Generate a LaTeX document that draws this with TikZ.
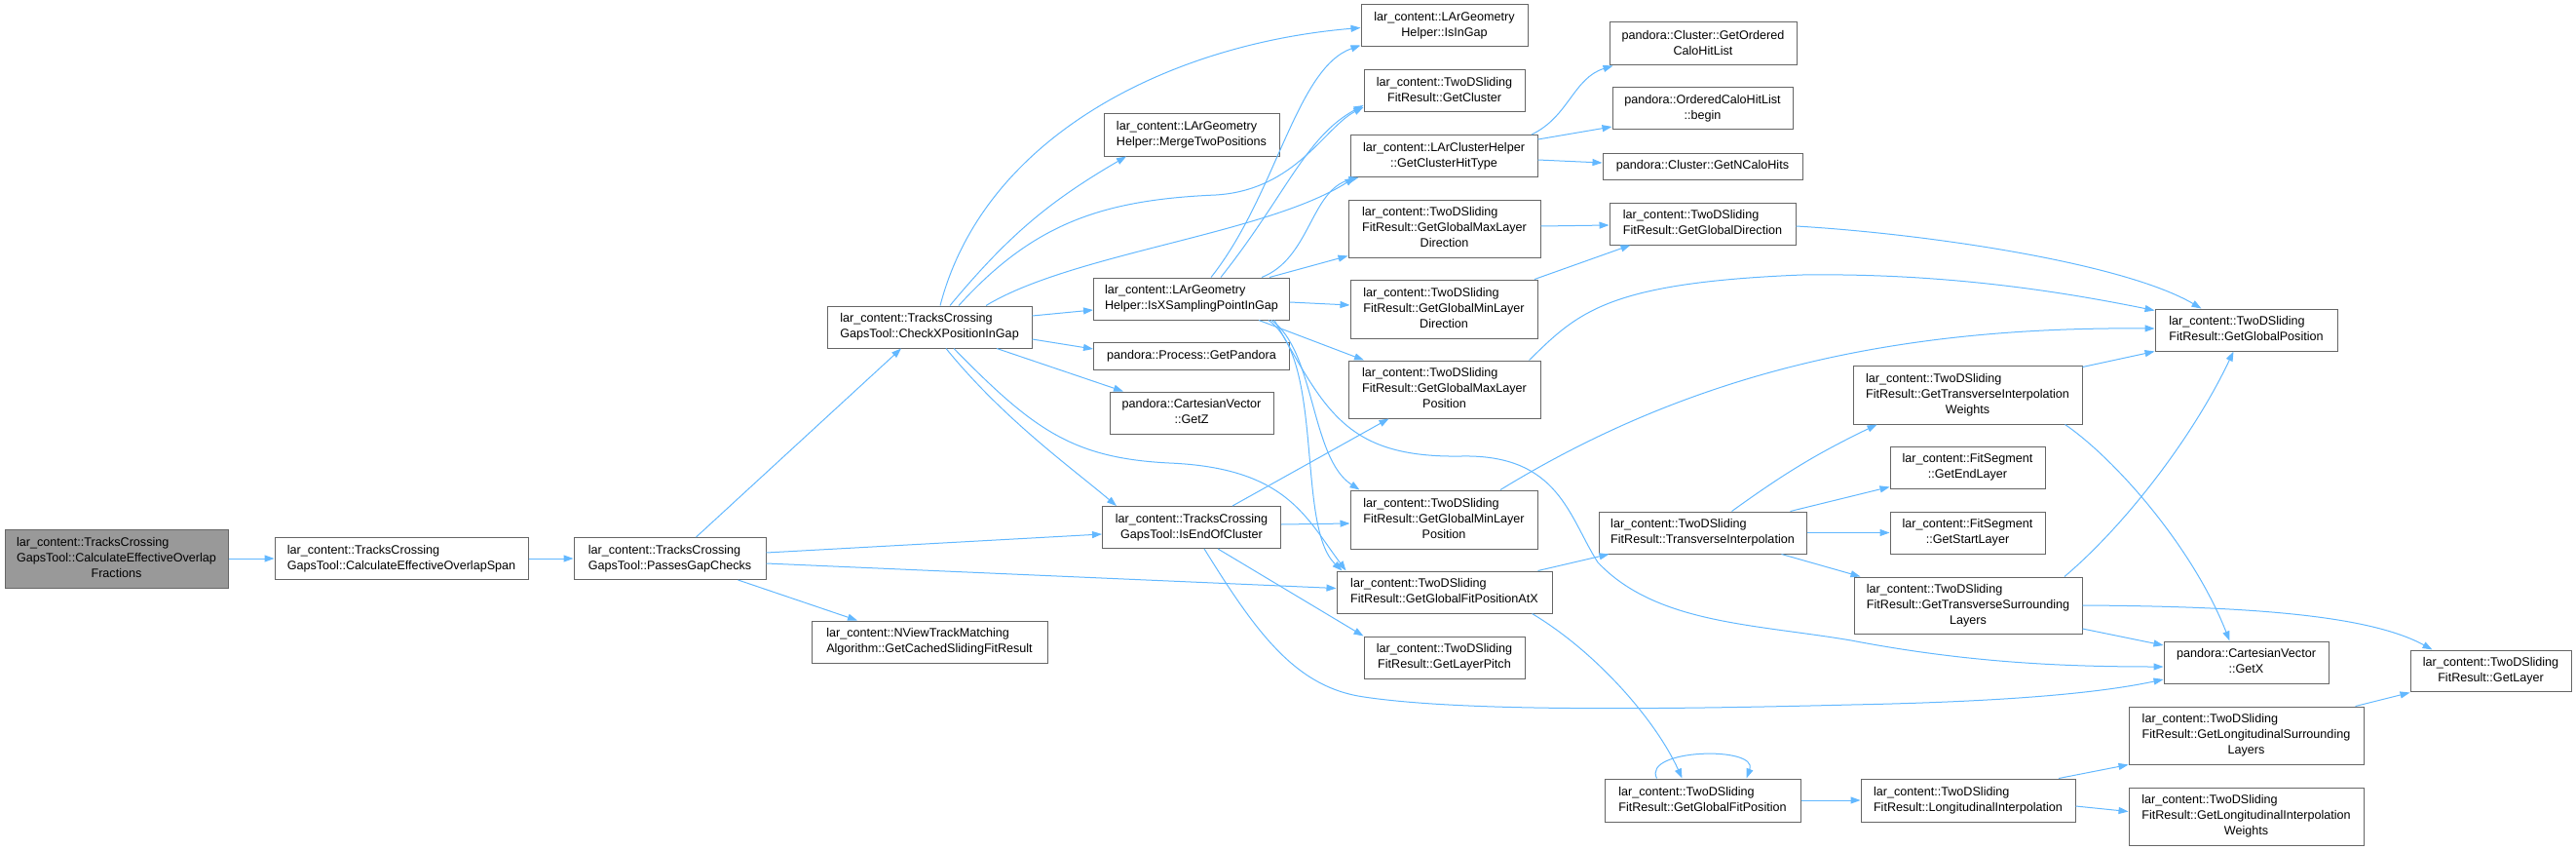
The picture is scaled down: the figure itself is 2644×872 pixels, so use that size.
\documentclass[tikz,border=0pt]{standalone}
\usepackage{fontspec}
\setmainfont{Liberation Sans}
\usepackage{tikz}
\usetikzlibrary{arrows.meta,positioning,calc}
\definecolor{cgblue}{HTML}{63B8FF}
\definecolor{cgline}{HTML}{666666}
\definecolor{cgfill}{HTML}{999999}
\tikzset{
  cgnode/.style={draw=cgline, fill=white, line width=1pt, inner sep=0pt,
    font=\fontsize{12.6pt}{16pt}\selectfont, text=black},
  cgroot/.style={cgnode, fill=cgfill},
  cgsize/.style 2 args={minimum width=#1pt, minimum height=#2pt},
  cgedge/.style={draw=cgblue, line width=1pt, -{Triangle[length=10pt, width=7pt]}},
}
% first lines flush left, last line centred
\newcommand{\cgLbl}[2]{\begin{tabular}{@{}c@{}}\multicolumn{1}{@{}l@{}}{#1}\\#2\end{tabular}}
\newcommand{\cgLblThree}[3]{\begin{tabular}{@{}c@{}}\multicolumn{1}{@{}l@{}}{#1}\\\multicolumn{1}{@{}l@{}}{#2}\\#3\end{tabular}}

\begin{document}
\begin{tikzpicture}[x=1pt, y=-1pt]
  \useasboundingbox (0,0) rectangle (2644,872);

  % callers
  \node[cgroot, cgsize={229}{60}] (root) at (119.5,573) {\cgLblThree{lar\_content::TracksCrossing}{GapsTool::CalculateEffectiveOverlap}{Fractions}};
  \node[cgnode, cgsize={260}{43}] (span) at (412,573) {\cgLbl{lar\_content::TracksCrossing}{GapsTool::CalculateEffectiveOverlapSpan}};
  \node[cgnode, cgsize={197}{43}] (passes) at (687.5,573) {\cgLbl{lar\_content::TracksCrossing}{GapsTool::PassesGapChecks}};
  \node[cgnode, cgsize={210}{43}] (checkx) at (954,335.5) {\cgLbl{lar\_content::TracksCrossing}{GapsTool::CheckXPositionInGap}};
  \node[cgnode, cgsize={242}{43}] (nview) at (954,658.5) {\cgLbl{lar\_content::NViewTrackMatching}{Algorithm::GetCachedSlidingFitResult}};

  % fifth column
  \node[cgnode, cgsize={180}{43}] (merge) at (1223,138.5) {\cgLbl{lar\_content::LArGeometry}{Helper::MergeTwoPositions}};
  \node[cgnode, cgsize={201}{43}] (isxsamp) at (1223,306.5) {\cgLbl{lar\_content::LArGeometry}{Helper::IsXSamplingPointInGap}};
  \node[cgnode, cgsize={201}{28}] (pandora) at (1223,365) {pandora::Process::GetPandora};
  \node[cgnode, cgsize={168}{43}] (getz) at (1223,423.5) {\cgLbl{pandora::CartesianVector}{::GetZ}};
  \node[cgnode, cgsize={183}{43}] (isend) at (1223,541) {\cgLbl{lar\_content::TracksCrossing}{GapsTool::IsEndOfCluster}};

  % sixth column
  \node[cgnode, cgsize={171}{43}] (isingap) at (1482.5,26.5) {\cgLbl{lar\_content::LArGeometry}{Helper::IsInGap}};
  \node[cgnode, cgsize={165}{43}] (getcluster) at (1482.5,93) {\cgLbl{lar\_content::TwoDSliding}{FitResult::GetCluster}};
  \node[cgnode, cgsize={192}{43}] (hittype) at (1482,160) {\cgLbl{lar\_content::LArClusterHelper}{::GetClusterHitType}};
  \node[cgnode, cgsize={197}{59}] (maxlaydir) at (1482.5,234.5) {\cgLblThree{lar\_content::TwoDSliding}{FitResult::GetGlobalMaxLayer}{Direction}};
  \node[cgnode, cgsize={192}{60}] (minlaydir) at (1482,317) {\cgLblThree{lar\_content::TwoDSliding}{FitResult::GetGlobalMinLayer}{Direction}};
  \node[cgnode, cgsize={197}{59}] (maxlaypos) at (1482.5,399.5) {\cgLblThree{lar\_content::TwoDSliding}{FitResult::GetGlobalMaxLayer}{Position}};
  \node[cgnode, cgsize={192}{60}] (minlaypos) at (1482,533) {\cgLblThree{lar\_content::TwoDSliding}{FitResult::GetGlobalMinLayer}{Position}};
  \node[cgnode, cgsize={221}{43}] (fitposatx) at (1482.5,607.5) {\cgLbl{lar\_content::TwoDSliding}{FitResult::GetGlobalFitPositionAtX}};
  \node[cgnode, cgsize={165}{43}] (pitch) at (1482.5,674.5) {\cgLbl{lar\_content::TwoDSliding}{FitResult::GetLayerPitch}};

  % seventh column
  \node[cgnode, cgsize={192}{44}] (orderedhits) at (1748,45) {\cgLbl{pandora::Cluster::GetOrdered}{CaloHitList}};
  \node[cgnode, cgsize={185}{43}] (hitbegin) at (1747.5,111.5) {\cgLbl{pandora::OrderedCaloHitList}{::begin}};
  \node[cgnode, cgsize={205}{27}] (ncalohits) at (1747.5,170.5) {pandora::Cluster::GetNCaloHits};
  \node[cgnode, cgsize={191}{43}] (globaldir) at (1747.5,229.5) {\cgLbl{lar\_content::TwoDSliding}{FitResult::GetGlobalDirection}};
  \node[cgnode, cgsize={213}{43}] (transinterp) at (1747.5,546.5) {\cgLbl{lar\_content::TwoDSliding}{FitResult::TransverseInterpolation}};
  \node[cgnode, cgsize={201}{44}] (globalfitpos) at (1747.5,821) {\cgLbl{lar\_content::TwoDSliding}{FitResult::GetGlobalFitPosition}};

  % eighth column
  \node[cgnode, cgsize={235}{60}] (transweights) at (2019.5,405) {\cgLblThree{lar\_content::TwoDSliding}{FitResult::GetTransverseInterpolation}{Weights}};
  \node[cgnode, cgsize={159}{43}] (endlayer) at (2019.5,479.5) {\cgLbl{lar\_content::FitSegment}{::GetEndLayer}};
  \node[cgnode, cgsize={159}{43}] (startlayer) at (2019.5,546.5) {\cgLbl{lar\_content::FitSegment}{::GetStartLayer}};
  \node[cgnode, cgsize={234}{58}] (transsurr) at (2020,621) {\cgLblThree{lar\_content::TwoDSliding}{FitResult::GetTransverseSurrounding}{Layers}};
  \node[cgnode, cgsize={220}{44}] (longinterp) at (2020,821) {\cgLbl{lar\_content::TwoDSliding}{FitResult::LongitudinalInterpolation}};

  % last columns
  \node[cgnode, cgsize={187}{43}] (globalpos) at (2305.5,338.5) {\cgLbl{lar\_content::TwoDSliding}{FitResult::GetGlobalPosition}};
  \node[cgnode, cgsize={169}{43}] (getx) at (2305.5,679.5) {\cgLbl{pandora::CartesianVector}{::GetX}};
  \node[cgnode, cgsize={241}{59}] (longsurr) at (2305.5,754.5) {\cgLblThree{lar\_content::TwoDSliding}{FitResult::GetLongitudinalSurrounding}{Layers}};
  \node[cgnode, cgsize={241}{59}] (longweights) at (2305.5,837.5) {\cgLblThree{lar\_content::TwoDSliding}{FitResult::GetLongitudinalInterpolation}{Weights}};
  \node[cgnode, cgsize={165}{42}] (getlayer) at (2556.5,688) {\cgLbl{lar\_content::TwoDSliding}{FitResult::GetLayer}};

  % calls from the first columns
  \draw[cgedge] (root.east) -- (span.west);
  \draw[cgedge] (span.east) -- (passes.west);
  \draw[cgedge] ([xshift=27pt]passes.north) -- ([xshift=-29pt]checkx.south);
  \draw[cgedge] ([yshift=6pt]passes.east) -- ([yshift=-7pt]isend.west);
  \draw[cgedge] ([yshift=-5pt]passes.east) -- ([yshift=4pt]fitposatx.west);
  \draw[cgedge] ([xshift=70pt]passes.south) -- ([xshift=-74pt]nview.north);

  % calls from CheckXPositionInGap
  \draw[cgedge] ([xshift=11pt]checkx.north) .. controls (1010,140) and (1200,45) .. ([yshift=-2pt]isingap.west);
  \draw[cgedge] ([xshift=21pt]checkx.north) to[bend left=10] ([xshift=-67pt]merge.south);
  \draw[cgedge] ([xshift=30pt]checkx.north) .. controls (1060,230) and (1130,205) .. (1248,200)
    .. controls (1330,195) and (1360,130) .. ([yshift=5pt]getcluster.south west);
  \draw[cgedge] ([xshift=58pt]checkx.north) .. controls (1100,260) and (1300,240) .. ([xshift=5pt]hittype.south west);
  \draw[cgedge] ([yshift=11.5pt]checkx.east) -- ([yshift=-11.5pt]isxsamp.west);
  \draw[cgedge] ([yshift=-12.5pt]checkx.east) -- ([yshift=7pt]pandora.west);
  \draw[cgedge] ([xshift=69pt]checkx.south) -- ([xshift=-70pt]getz.north);
  \draw[cgedge] ([xshift=17pt]checkx.south) .. controls (1030,430) and (1100,480) .. ([xshift=-77pt]isend.north);
  \draw[cgedge] ([xshift=25pt]checkx.south) .. controls (1060,440) and (1100,470) .. (1200,475)
    .. controls (1320,480) and (1340,530) .. ([xshift=10pt]fitposatx.north west);

  % calls from IsXSamplingPointInGap
  \draw[cgedge] ([xshift=20pt]isxsamp.north) .. controls (1310,200) and (1330,70) .. ([yshift=2pt]isingap.south west);
  \draw[cgedge] ([xshift=30pt]isxsamp.north) .. controls (1320,200) and (1340,140) .. ([yshift=7pt]getcluster.south west);
  \draw[cgedge] ([xshift=72pt]isxsamp.north) .. controls (1345,265) and (1345,195) .. ([xshift=9pt]hittype.south west);
  \draw[cgedge] ([xshift=80pt]isxsamp.north) -- ([yshift=2pt]maxlaydir.south west);
  \draw[cgedge] ([yshift=-3.5pt]isxsamp.east) -- ([yshift=4pt]minlaydir.west);
  \draw[cgedge] ([xshift=69pt]isxsamp.south) -- ([xshift=-82.5pt]maxlaypos.north);
  \draw[cgedge] ([xshift=82pt]isxsamp.south) .. controls (1350,360) and (1345,470) .. ([xshift=10pt]minlaypos.north west);
  \draw[cgedge] ([xshift=79pt]isxsamp.south) .. controls (1360,370) and (1330,540) .. ([xshift=6pt]fitposatx.north west);
  \draw[cgedge] ([xshift=85pt]isxsamp.south) .. controls (1360,420) and (1380,470) .. (1500,468)
    .. controls (1600,466) and (1610,530) .. (1640,577)
    .. controls (1700,640) and (1800,640) .. (1900,657)
    .. controls (2020,680) and (2120,684) .. ([yshift=-4.5pt]getx.west);

  % calls from IsEndOfCluster
  \draw[cgedge] ([xshift=42pt]isend.north) -- ([xshift=-57pt]maxlaypos.south);
  \draw[cgedge] ([yshift=3pt]isend.east) -- ([yshift=-4pt]minlaypos.west);
  \draw[cgedge] ([xshift=27pt]isend.south) -- (pitch.north west);
  \draw[cgedge] ([xshift=13pt]isend.south) .. controls (1290,650) and (1330,705) .. (1400,715)
    .. controls (1500,730) and (1700,728) .. (1900,723)
    .. controls (2050,720) and (2150,712) .. ([yshift=-17.5pt]getx.west);

  % sixth column to seventh
  \draw[cgedge] ([xshift=90pt]hittype.north) .. controls (1610,120) and (1615,80) .. ([xshift=4pt]orderedhits.south west);
  \draw[cgedge] ([yshift=17pt]hittype.east) -- ([yshift=-18.5pt]hitbegin.west);
  \draw[cgedge] ([yshift=-4pt]hittype.east) -- ([yshift=3.5pt]ncalohits.west);
  \draw[cgedge] ([yshift=2.5pt]maxlaydir.east) -- ([yshift=-1.5pt]globaldir.west);
  \draw[cgedge] ([xshift=93pt]minlaydir.north) -- ([xshift=22pt]globaldir.south west);
  \draw[cgedge] ([yshift=-2.5pt]globaldir.east) .. controls (1980,240) and (2180,270) .. ([xshift=-46pt]globalpos.north);
  \draw[cgedge] ([xshift=87pt]maxlaypos.north) .. controls (1620,320) and (1650,290) .. (1850,282)
    .. controls (2000,280) and (2120,300) .. ([yshift=-2pt]globalpos.north west);
  \draw[cgedge] ([xshift=58pt]minlaypos.north) .. controls (1740,380) and (1950,335) .. ([yshift=1.5pt]globalpos.west);
  \draw[cgedge] ([xshift=96pt]fitposatx.north) -- ([xshift=11pt]transinterp.south west);
  \draw[cgedge] ([xshift=90pt]fitposatx.south) .. controls (1640,670) and (1700,740) .. ([xshift=-21pt]globalfitpos.north);

  % interpolation
  \draw[cgedge] ([xshift=30pt]transinterp.north) to[bend left=5] ([xshift=25pt]transweights.south west);
  \draw[cgedge] ([xshift=90pt]transinterp.north) -- ([yshift=2pt]endlayer.south west);
  \draw[cgedge] (transinterp.east) -- (startlayer.west);
  \draw[cgedge] ([xshift=81pt]transinterp.south) -- ([xshift=7pt]transsurr.north west);
  \draw[cgedge] ([yshift=-2pt]transweights.north east) -- (globalpos.south west);
  \draw[cgedge] ([xshift=100pt]transweights.south) .. controls (2170,470) and (2250,560) .. ([xshift=-17pt]getx.north);
  \draw[cgedge] ([xshift=99pt]transsurr.north) .. controls (2180,540) and (2250,450) .. ([xshift=-13pt]globalpos.south);
  \draw[cgedge] ([yshift=-24pt]transsurr.east) -- ([yshift=17.5pt]getx.west);
  \draw[cgedge] (transsurr.east) .. controls (2300,622) and (2430,630) .. ([xshift=23pt]getlayer.north west);
  \draw[cgedge] ([xshift=-47pt]globalfitpos.north) .. controls (1685,768) and (1805,765) .. ([xshift=45pt]globalfitpos.north);
  \draw[cgedge] (globalfitpos.east) -- (longinterp.west);
  \draw[cgedge] ([xshift=93pt]longinterp.north) -- (longsurr.south west);
  \draw[cgedge] ([yshift=-6pt]longinterp.east) -- ([yshift=5pt]longweights.west);
  \draw[cgedge] ([xshift=112pt]longsurr.north) -- ([yshift=-1pt]getlayer.south west);
\end{tikzpicture}
\end{document}
